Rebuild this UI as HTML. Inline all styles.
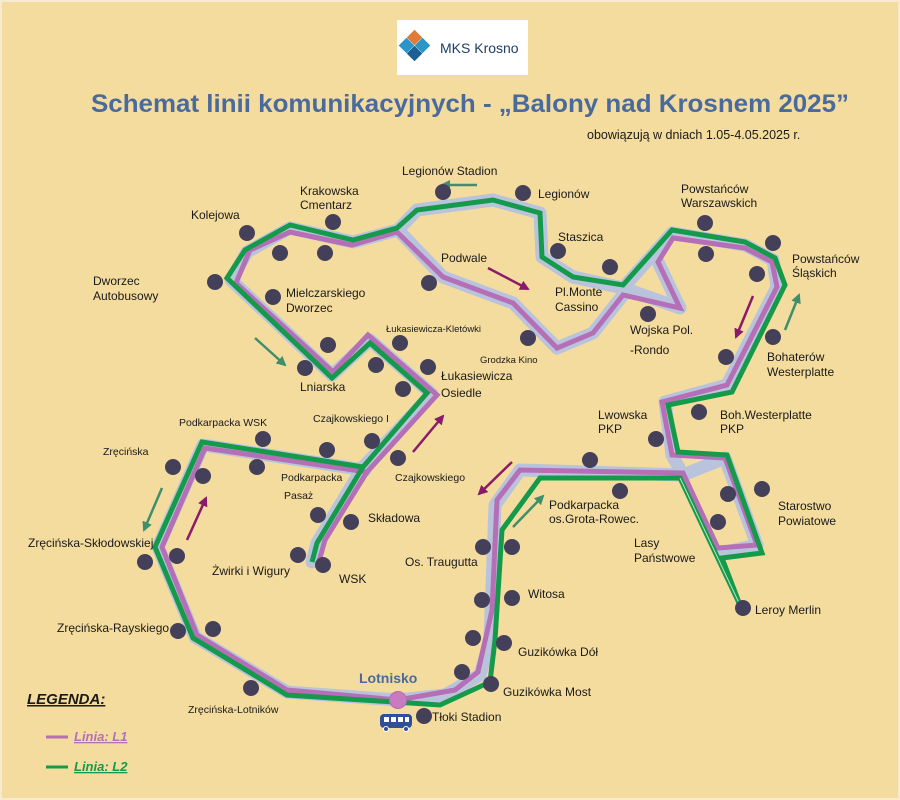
<!DOCTYPE html>
<html><head><meta charset="utf-8"><style>
html,body{margin:0;padding:0;background:#f4dc9e;}
svg{display:block;}
text{font-family:"Liberation Sans",sans-serif;fill:#1a1a1a;}
.s{font-size:12px;}
.xs{font-size:10.5px;}
</style></head><body>
<svg width="900" height="800" viewBox="0 0 900 800" xmlns="http://www.w3.org/2000/svg">
<defs>
<marker id="ag" viewBox="0 0 10 10" refX="8" refY="5" markerWidth="4" markerHeight="4" orient="auto"><path d="M0,0 L10,5 L0,10 z" fill="#3f8f6a"/></marker>
<marker id="ap" viewBox="0 0 10 10" refX="8" refY="5" markerWidth="4" markerHeight="4" orient="auto"><path d="M0,0 L10,5 L0,10 z" fill="#8a1a6a"/></marker>
</defs>
<rect x="0" y="0" width="900" height="800" fill="#f4dc9e"/>
<rect x="1" y="1" width="898" height="798" fill="none" stroke="#f8ead0" stroke-width="2"/>
<!-- logo -->
<rect x="397" y="20" width="131" height="55" fill="#fff"/>
<rect x="409" y="32" width="11" height="11" fill="#e07b39" transform="rotate(45 414.5 37.5)"/>
<rect x="401" y="40" width="11" height="11" fill="#2a95c8" transform="rotate(45 406.5 45.5)"/>
<rect x="417" y="40" width="11" height="11" fill="#2a95c8" transform="rotate(45 422.5 45.5)"/>
<rect x="409" y="48" width="11" height="11" fill="#1c5f94" transform="rotate(45 414.5 53.5)"/>
<text x="440" y="53" style="font-size:14px;fill:#1f3f66">MKS Krosno</text>
<!-- title -->
<text x="91" y="112" textLength="758" lengthAdjust="spacingAndGlyphs" style="font-weight:bold;font-size:25px;fill:#4a6a9e">Schemat linii komunikacyjnych  - „Balony nad Krosnem 2025”</text>
<text x="587" y="139" style="font-size:12.5px">obowiązują w dniach 1.05-4.05.2025 r.</text>

<!-- shadow -->
<g fill="none" stroke="#b9c4dc" stroke-width="13" stroke-linejoin="round" stroke-linecap="round">
<path d="M312,562 L317,543 L363,467 L432,394 L370,340 L332,375 L231,280 L247,252 L290,228 L353,242 L398,230 L417,210 L493,200 L540,213 L542,257 L573,277 L623,288 L672,233 L745,245 L773,260 L777,287 L727,385 L665,402 L672,455 L683,475 L725,458 L757,545 L722,553 M623,288 L680,308 L658,262 M398,230 L443,277 L513,303 L557,348 L593,333 L623,295"/>
<path d="M683,475 L520,470 L495,505 L490,640 L480,675 L445,695 L398,700 L287,692 L195,637 L158,547 L203,445 L365,470"/>
</g>
<!-- purple L1 -->
<g fill="none" stroke="#b46fb6" stroke-width="5" stroke-linejoin="miter">
<path d="M318,565 L325,540 L367,472 L437,395 L368,335 L333,372 L236,283 L250,250 L290,232 L352,245 L397,232 L443,277 L513,303 L557,348 L593,333 L623,295 L680,308 L658,262 L673,238 L745,248 L772,262 L777,287 L727,385 L662,402 L672,455 L725,458 L757,545 L718,548 L683,473 L520,470 L497,500 L492,610 L478,672 L455,690 L398,700 L287,690 L197,635 L162,547 L205,448 L367,472"/>
</g>
<!-- green L2 -->
<g fill="none" stroke="#149a4a" stroke-width="5" stroke-linejoin="miter">
<path d="M312,562 L317,543 L363,467 L427,393 L370,343 L332,378 L227,278 L245,250 L290,225 L353,240 L397,228 L417,210 L493,200 L540,213 L542,257 L573,277 L623,285 L672,230 L745,242 L775,258 L785,285 L732,392 L668,405 L678,452 L727,455 L762,553 L722,558 L740,605 L680,478 L540,478 L502,530 L495,640 L490,682 L440,705 L287,695 L193,638 L155,547 L202,442 L363,467"/>
</g>
<path d="M740,605 L680,478" stroke="#fff" stroke-width="1" fill="none" opacity="0.7"/>

<!-- arrows -->
<g stroke-width="2.5" fill="none">
<line x1="477" y1="185" x2="442" y2="185" stroke="#3f8f6a" marker-end="url(#ag)"/>
<line x1="488" y1="268" x2="528" y2="289" stroke="#8a1a6a" marker-end="url(#ap)"/>
<line x1="255" y1="338" x2="285" y2="365" stroke="#3f8f6a" marker-end="url(#ag)"/>
<line x1="187" y1="540" x2="206" y2="498" stroke="#8a1a6a" marker-end="url(#ap)"/>
<line x1="162" y1="488" x2="144" y2="530" stroke="#3f8f6a" marker-end="url(#ag)"/>
<line x1="413" y1="452" x2="443" y2="416" stroke="#8a1a6a" marker-end="url(#ap)"/>
<line x1="512" y1="462" x2="479" y2="494" stroke="#8a1a6a" marker-end="url(#ap)"/>
<line x1="513" y1="527" x2="543" y2="496" stroke="#3f8f6a" marker-end="url(#ag)"/>
<line x1="753" y1="296" x2="736" y2="337" stroke="#8a1a6a" marker-end="url(#ap)"/>
<line x1="785" y1="330" x2="799" y2="295" stroke="#3f8f6a" marker-end="url(#ag)"/>
</g>

<!-- dots -->
<g fill="#45405a">
<circle cx="247" cy="233" r="8"/><circle cx="280" cy="253" r="8"/><circle cx="333" cy="222" r="8"/><circle cx="325" cy="253" r="8"/>
<circle cx="215" cy="282" r="8"/><circle cx="273" cy="297" r="8"/><circle cx="443" cy="192" r="8"/><circle cx="523" cy="193" r="8"/>
<circle cx="558" cy="251" r="8"/><circle cx="610" cy="267" r="8"/><circle cx="429" cy="283" r="8"/><circle cx="528" cy="338" r="8"/>
<circle cx="328" cy="345" r="8"/><circle cx="305" cy="368" r="8"/><circle cx="400" cy="343" r="8"/><circle cx="376" cy="365" r="8"/>
<circle cx="428" cy="367" r="8"/><circle cx="403" cy="389" r="8"/>
<circle cx="705" cy="223" r="8"/><circle cx="773" cy="243" r="8"/><circle cx="706" cy="254" r="8"/><circle cx="757" cy="274" r="8"/>
<circle cx="648" cy="314" r="8"/><circle cx="773" cy="337" r="8"/><circle cx="726" cy="357" r="8"/><circle cx="699" cy="412" r="8"/>
<circle cx="656" cy="439" r="8"/><circle cx="762" cy="489" r="8"/><circle cx="728" cy="494" r="8"/><circle cx="718" cy="522" r="8"/>
<circle cx="620" cy="491" r="8"/><circle cx="590" cy="460" r="8"/><circle cx="743" cy="608" r="8"/>
<circle cx="263" cy="439" r="8"/><circle cx="327" cy="450" r="8"/><circle cx="372" cy="441" r="8"/><circle cx="398" cy="458" r="8"/>
<circle cx="173" cy="467" r="8"/><circle cx="203" cy="476" r="8"/><circle cx="257" cy="467" r="8"/><circle cx="318" cy="515" r="8"/>
<circle cx="351" cy="522" r="8"/><circle cx="298" cy="555" r="8"/><circle cx="323" cy="565" r="8"/><circle cx="145" cy="562" r="8"/>
<circle cx="177" cy="556" r="8"/><circle cx="178" cy="631" r="8"/><circle cx="213" cy="629" r="8"/><circle cx="251" cy="688" r="8"/>
<circle cx="483" cy="547" r="8"/><circle cx="512" cy="547" r="8"/><circle cx="482" cy="600" r="8"/><circle cx="512" cy="598" r="8"/>
<circle cx="473" cy="638" r="8"/><circle cx="504" cy="643" r="8"/><circle cx="462" cy="672" r="8"/><circle cx="491" cy="684" r="8"/>
<circle cx="424" cy="716" r="8"/>
</g>
<circle cx="398" cy="700" r="8.5" fill="#c87bbf" stroke="#b46fb6"/>
<!-- bus -->
<rect x="380" y="714" width="32" height="14" rx="4" fill="#2f4f9a"/>
<rect x="384" y="717" width="5" height="5" fill="#fff"/><rect x="391" y="717" width="5" height="5" fill="#fff"/><rect x="398" y="717" width="5" height="5" fill="#fff"/><rect x="405" y="717" width="4" height="5" fill="#fff"/>
<circle cx="386" cy="729" r="2.5" fill="#2f4f9a" stroke="#fff"/><circle cx="406" cy="729" r="2.5" fill="#2f4f9a" stroke="#fff"/>
<text x="359" y="683" style="font-weight:bold;font-size:14px;fill:#4a6a9e">Lotnisko</text>

<!-- labels -->
<g class="s">
<text x="402" y="175">Legionów Stadion</text>
<text x="538" y="198">Legionów</text>
<text x="300" y="195">Krakowska</text>
<text x="300" y="209">Cmentarz</text>
<text x="191" y="219">Kolejowa</text>
<text x="93" y="285">Dworzec</text>
<text x="93" y="300">Autobusowy</text>
<text x="286" y="297">Mielczarskiego</text>
<text x="286" y="312">Dworzec</text>
<text x="441" y="262">Podwale</text>
<text x="558" y="241">Staszica</text>
<text x="555" y="296">Pl.Monte</text>
<text x="555" y="311">Cassino</text>
<text x="630" y="334">Wojska Pol.</text>
<text x="630" y="354">-Rondo</text>
<text x="681" y="193">Powstańców</text>
<text x="681" y="207">Warszawskich</text>
<text x="792" y="263">Powstańców</text>
<text x="792" y="277">Śląskich</text>
<text x="767" y="361">Bohaterów</text>
<text x="767" y="376">Westerplatte</text>
<text x="720" y="419">Boh.Westerplatte</text>
<text x="720" y="433">PKP</text>
<text x="598" y="419">Lwowska</text>
<text x="598" y="433">PKP</text>
<text x="778" y="510">Starostwo</text>
<text x="778" y="525">Powiatowe</text>
<text x="634" y="547">Lasy</text>
<text x="634" y="562">Państwowe</text>
<text x="755" y="614">Leroy Merlin</text>
<text x="549" y="509">Podkarpacka</text>
<text x="549" y="523">os.Grota-Rowec.</text>
<text x="405" y="566">Os. Traugutta</text>
<text x="528" y="598">Witosa</text>
<text x="518" y="656">Guzikówka Dół</text>
<text x="503" y="696">Guzikówka Most</text>
<text x="432" y="721">Tłoki Stadion</text>
<text x="188" y="713" class="xs">Zręcińska-Lotników</text>
<text x="57" y="632">Zręcińska-Rayskiego</text>
<text x="28" y="547">Zręcińska-Skłodowskiej</text>
<text x="103" y="455" class="xs">Zręcińska</text>
<text x="179" y="426" class="xs">Podkarpacka WSK</text>
<text x="313" y="422" class="xs">Czajkowskiego I</text>
<text x="281" y="481" class="xs">Podkarpacka</text>
<text x="284" y="499" class="xs">Pasaż</text>
<text x="395" y="481" class="xs">Czajkowskiego</text>
<text x="368" y="522">Składowa</text>
<text x="212" y="575">Żwirki i Wigury</text>
<text x="339" y="583">WSK</text>
<text x="300" y="391">Lniarska</text>
<text x="441" y="380">Łukasiewicza</text>
<text x="441" y="397">Osiedle</text>
<text x="386" y="332" style="font-size:9.5px">Łukasiewicza-Kletówki</text>
<text x="480" y="363" style="font-size:9.5px">Grodzka Kino</text>
</g>

<!-- legend -->
<text x="27" y="704" style="font-weight:bold;font-style:italic;font-size:15px;text-decoration:underline">LEGENDA:</text>
<line x1="46" y1="737" x2="68" y2="737" stroke="#b46fb6" stroke-width="3"/>
<text x="74" y="741" style="font-weight:bold;font-style:italic;font-size:13px;fill:#b46fb6;text-decoration:underline">Linia:   L1</text>
<line x1="46" y1="767" x2="68" y2="767" stroke="#149a4a" stroke-width="3"/>
<text x="74" y="771" style="font-weight:bold;font-style:italic;font-size:13px;fill:#149a4a;text-decoration:underline">Linia:   L2</text>
</svg>
</body></html>
